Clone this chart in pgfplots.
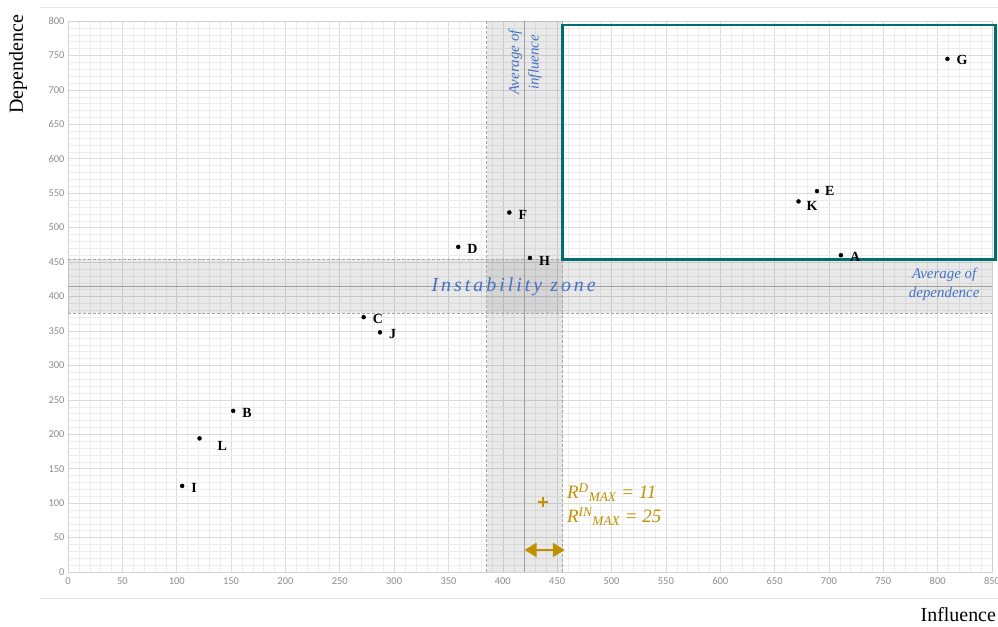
\documentclass[border=0pt]{standalone}
\usepackage{pgfplots}
\pgfplotsset{compat=1.18}
\usepackage{pgfplotstable}
\usepackage{fontspec}
\setmainfont{Liberation Serif}
\newfontfamily\tickfont{Carlito}
\usetikzlibrary{arrows.meta}
\definecolor{avgblue}{RGB}{68,114,196}
\definecolor{rgold}{RGB}{191,144,0}
\definecolor{boxteal}{RGB}{0,110,110}

% influence, dependence, label, label offsets (bp)
\pgfplotstableread{
x y lab dx dy
105 125 I 9 -2
121 194 L 18 -8
152 234 B 9 -2
272 370 C 9 -2
287 348 J 9 -2
359 472 D 9 -2
406 522 F 9 -2
425 456 H 9 -3
672 538 K 8 -4
689 553 E 8 0
711 460 A 9 -2
809 745 G 9 -1
}\pts

\begin{document}
\begin{tikzpicture}
\begin{axis}[
  name=ax,
  scale only axis,
  width=924bp, height=551bp,
  xmin=0, xmax=850, ymin=0, ymax=800,
  xtick={0,50,...,850}, ytick={0,50,...,800},
  minor tick num=4,
  grid=both,
  major grid style={gray!28, line width=0.6pt},
  minor grid style={gray!14, line width=0.4pt},
  major tick length=0pt, minor tick length=0pt,
  axis line style={gray!35},
  ticklabel style={font=\tickfont\fontsize{10.5}{11}\selectfont, text=gray!90},
  /pgf/number format/assume math mode=true,
  xticklabel style={yshift=-2bp},
  clip=false,
]
% instability bands
\fill[black, opacity=0.085] (axis cs:385,0) rectangle (axis cs:455,800);
\fill[black, opacity=0.085] (axis cs:0,376) rectangle (axis cs:850,454);
\draw[gray!70, densely dashed] (axis cs:385,0) -- (axis cs:385,800);
\draw[gray!70, densely dashed] (axis cs:455,0) -- (axis cs:455,800);
\draw[gray!70, densely dashed] (axis cs:0,376) -- (axis cs:850,376);
\draw[gray!70, densely dashed] (axis cs:0,454) -- (axis cs:850,454);
\draw[gray!75, line width=0.9pt] (axis cs:420,0) -- (axis cs:420,800);
\draw[gray!75, line width=0.9pt] (axis cs:0,415) -- (axis cs:850,415);

% quadrant box
\draw[boxteal, line width=2.6pt] (axis cs:455,454) rectangle (axis cs:853,794);

% faint frame lines
\draw[gray!20, line width=1pt] (axis cs:-26,819) -- (axis cs:862,819);
\draw[gray!20, line width=1pt] (axis cs:-26,-38) -- (axis cs:862,-38);

\addplot[only marks, mark=*, mark size=2pt, black,
  point meta=explicit symbolic,
  visualization depends on={\thisrow{dx} \as \dx},
  visualization depends on={\thisrow{dy} \as \dy},
  nodes near coords,
  nodes near coords style={anchor=west, inner sep=0pt, xshift=\dx bp, yshift=\dy bp,
    font=\bfseries\fontsize{14}{14}\selectfont, text=black}]
  table[x=x, y=y, meta=lab] {\pts};

% R max marker and arrow
\addplot[only marks, mark=+, mark size=5pt, rgold, line width=2.2pt]
  coordinates {(437,102)};
\addplot[rgold, line width=2.6pt, {Triangle[length=12bp,width=14bp]}-{Triangle[length=12bp,width=14bp]}]
  coordinates {(420,32) (457,32)};

\node[anchor=base west, text=rgold, font=\itshape\fontsize{19}{19}\selectfont, inner sep=0pt]
  at (axis cs:459,107) {R\textsuperscript{D}\textsubscript{MAX} = 11};
\node[anchor=base west, text=rgold, font=\itshape\fontsize{19}{19}\selectfont, inner sep=0pt]
  at (axis cs:459,72) {R\textsuperscript{IN}\textsubscript{MAX} = 25};

% annotations
\node[text=avgblue, font=\itshape\fontsize{20}{20}\selectfont\addfontfeatures{LetterSpace=15}]
  at (axis cs:410,414) {Instability zone};
\node[text=avgblue, rotate=90, align=center, font=\itshape\fontsize{15}{20}\selectfont]
  at (axis cs:420.5,740) {Average of\\influence};
\node[text=avgblue, align=center, font=\itshape\fontsize{15}{19}\selectfont]
  at (axis cs:806,418) {Average of\\dependence};

% axis titles
\node[rotate=90, font=\fontsize{20}{20}\selectfont] at (axis cs:-46,737) {Dependence};
\node[font=\fontsize{20}{20}\selectfont] at (axis cs:819,-62) {Influence};
\end{axis}
\pgfresetboundingbox
\path ([xshift=-68bp,yshift=-54bp]ax.south west) rectangle ([xshift=6bp,yshift=21bp]ax.north east);
\end{tikzpicture}
\end{document}
